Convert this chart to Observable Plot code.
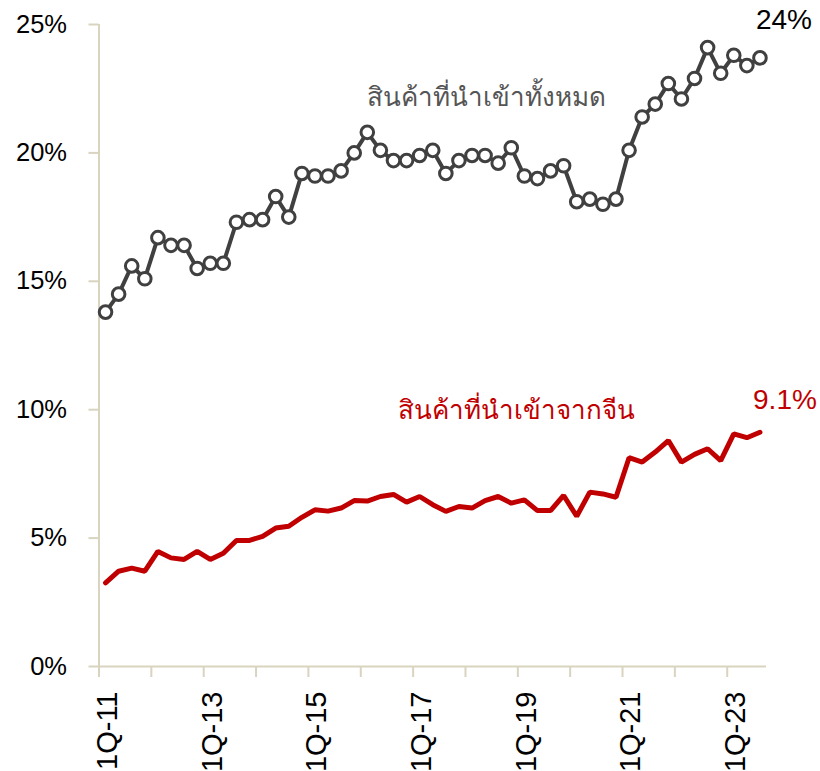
<!DOCTYPE html>
<html><head><meta charset="utf-8">
<script src="https://cdn.jsdelivr.net/npm/d3@7"></script>
<script src="https://cdn.jsdelivr.net/npm/@observablehq/plot@0.6"></script>
<style>html,body{margin:0;padding:0;background:#fff}</style>
</head><body><div id="chart"></div>
<script>
// Quarterly share of imports (%), 1Q-11 .. 3Q-23
const years = [11,12,13,14,15,16,17,18,19,20,21,22,23];
const quarters = years.flatMap(y => [1,2,3,4].map(q => `${q}Q-${y}`)).slice(0, 51);
const totalImports = [13.8,14.5,15.6,15.1,16.7,16.4,16.4,15.5,15.7,15.7,
  17.3,17.4,17.4,18.3,17.5,19.2,19.1,19.1,19.3,20.0,
  20.8,20.1,19.7,19.7,19.9,20.1,19.2,19.7,19.9,19.9,
  19.6,20.2,19.1,19.0,19.3,19.5,18.1,18.2,18.0,18.2,
  20.1,21.4,21.9,22.7,22.1,22.9,24.1,23.1,23.8,23.4,23.7];
const chinaImports = [3.26,3.71,3.83,3.71,4.48,4.23,4.17,4.48,4.17,4.41,
  4.91,4.91,5.07,5.39,5.46,5.81,6.10,6.05,6.17,6.46,
  6.44,6.62,6.70,6.40,6.62,6.30,6.04,6.23,6.17,6.46,
  6.62,6.36,6.49,6.07,6.07,6.66,5.85,6.79,6.72,6.59,
  8.13,7.96,8.35,8.80,7.96,8.26,8.48,8.02,9.06,8.91,9.12];
const tickLabels = ["1Q-11","1Q-13","1Q-15","1Q-17","1Q-19","1Q-21","1Q-23"];
const yTicks = [0,5,10,15,20,25];
const seriesNames = ["สินค้าที่นำเข้าทั้งหมด","สินค้าที่นำเข้าจากจีน"];
const endLabels = ["24%","9.1%"];

const GREY = "#404040", RED = "#c00000", AXIS = "#d9d4bf";
const idx = quarters.map((q, i) => i);
const total = idx.map(i => ({i, v: totalImports[i]}));
const china = idx.map(i => ({i, v: chinaImports[i]}));
const boundaries = idx.filter(i => i % 4 === 0).map(i => i - 0.5);
const labelIdx = tickLabels.map(t => quarters.indexOf(t));
const n = quarters.length;
const lastT = totalImports[n-1], lastC = chinaImports[n-1];

const chart = Plot.plot({
  width: 820, height: 771,
  marginLeft: 98.5, marginRight: 54, marginTop: 24, marginBottom: 105,
  style: {fontFamily: "'Liberation Sans', Arial, 'DejaVu Sans', sans-serif", background: "#fff", overflow: "visible"},
  x: {type: "linear", domain: [-0.5, n - 0.5], axis: null},
  y: {domain: [0, 25], axis: null},
  marks: [
    Plot.ruleX([-0.5], {stroke: AXIS, strokeWidth: 2}),
    Plot.ruleY([0], {stroke: AXIS, strokeWidth: 2}),
    Plot.axisY({ticks: yTicks, tickSize: 10, tickPadding: 22, tickFormat: d => d + "%", stroke: AXIS, strokeWidth: 2, fill: "#000", fontSize: 25.5, label: null}),
    Plot.axisX({ticks: boundaries, tickSize: 11, tickFormat: () => "", stroke: AXIS, strokeWidth: 2, label: null}),
    Plot.text(labelIdx, {x: d => d, frameAnchor: "bottom", dy: 25, dx: 2, text: d => quarters[d], rotate: -90, textAnchor: "end", lineAnchor: "middle", fontSize: 29, fill: "#000"}),
    Plot.line(china, {x: "i", y: "v", stroke: RED, strokeWidth: 5, strokeLinejoin: "miter"}),
    Plot.line(total, {x: "i", y: "v", stroke: GREY, strokeWidth: 4}),
    Plot.dot(total, {x: "i", y: "v", r: 6.3, fill: "#fff", stroke: GREY, strokeWidth: 3}),
    Plot.text([seriesNames[0]], {x: 29.1, y: 22.15, text: d => d, fill: "#555555", fontSize: 26, textAnchor: "middle", lineAnchor: "middle"}),
    Plot.text([seriesNames[1]], {x: 31.4, y: 9.97, text: d => d, fill: RED, fontSize: 26, textAnchor: "middle", lineAnchor: "middle"}),
    Plot.text([endLabels[0]], {x: n - 1, y: lastT, dx: 24, dy: -38, text: d => d, fill: "#000", fontSize: 28, textAnchor: "middle", lineAnchor: "middle"}),
    Plot.text([endLabels[1]], {x: n - 1, y: lastC, dx: 25, dy: -32, text: d => d, fill: RED, fontSize: 28, textAnchor: "middle", lineAnchor: "middle"})
  ]
});
document.getElementById("chart").appendChild(chart);
</script>
</body></html>
